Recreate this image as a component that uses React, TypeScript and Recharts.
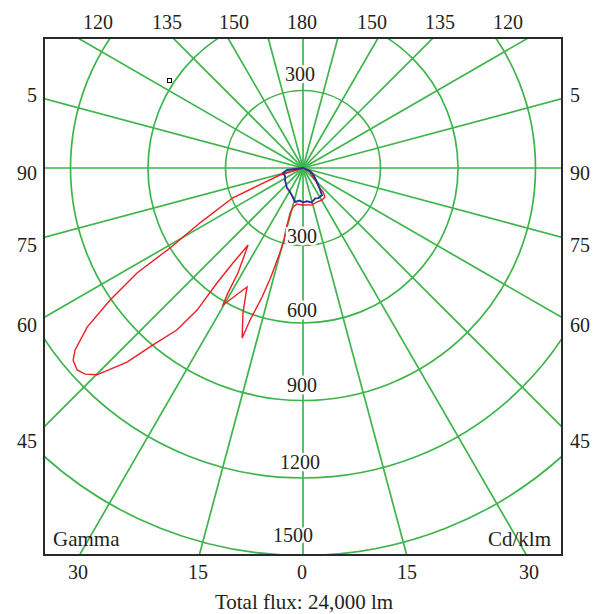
import React from 'react';
import { RadarChart, Radar, PolarGrid, PolarAngleAxis, PolarRadiusAxis } from 'recharts';

// angle: degrees from nadir (gamma 0), turning through the left half first
const redAngle = [75, 73, 67, 62, 59, 57.7, 55.6, 53.6, 51.4, 50.1, 48.2, 46.6, 44.9, 42.2, 40.3, 37.9, 36.7, 36.8, 36.4, 35.5, 31.8, 31, 30.3, 25.2, 22.5, 19.7, 19.2, 17.6, 16.4, 15.5, 14.5, 15.5, 16, 14.4, 9.5, 1.5, 346, 338, 329, 323, 320, 320, 315, 300, 300];
const redCd = [0, 93, 295, 450, 599, 760, 905, 1038, 1129, 1160, 1173, 1161, 1130, 1014, 898, 795, 686, 556, 457, 366, 478, 564, 614, 509, 607, 699, 623, 524, 440, 360, 287, 250, 181, 156, 141, 143, 147, 142, 144, 141, 121, 101, 66, 31, 0];

const blueAngle = [88, 83, 76, 66, 56, 47, 39, 30, 21, 13, 6, 0, 353, 346, 338, 333, 325, 322, 315, 301, 293, 285];
const blueCd = [0, 62, 80, 76, 84, 90, 99, 104, 116, 135, 127, 133, 130, 137, 127, 131, 128, 108, 77, 45, 29, 0];

const gridAngles = [0, 15, 30, 45, 60, 75, 90, 105, 120, 135, 150, 165, 180, 195, 210, 225, 240, 255, 270, 285, 300, 315, 330, 345];
const ringValues = [300, 600, 900, 1200, 1500];

const topLabels = ['120', '135', '150', '180', '150', '135', '120'];
const sideLabels = ['5', '90', '75', '60', '45'];
const bottomLabels = ['30', '15', '0', '15', '30'];
const ringLabels = ['300', '300', '600', '900', '1200', '1500'];

// label placement (px, page coordinates)
const topX = [98, 167, 234, 302, 372, 440, 508];
const sideY = [102, 180, 252, 332, 448];
const bottomX = [78, 198, 302, 407, 529];
const ringPos = [[300, 81], [302, 243], [302, 317], [302, 392], [300, 469], [293, 542]];

const data = [
  ...redAngle.map((a, i) => ({ angle: a, red: redCd[i] })),
  ...blueAngle.map((a, i) => ({ angle: a, blue: blueCd[i] })),
];

const font = '"Liberation Serif", "DejaVu Serif", serif';
const ink = '#231f20';

export default function App() {
  return (
    <div style={{ position: 'absolute', left: 0, top: 0, width: 600, height: 614, background: '#fff' }}>
      <div style={{ position: 'absolute', left: 44, top: 38, width: 518, height: 517, overflow: 'hidden' }}>
        <RadarChart
          width={518}
          height={517}
          data={data}
          cx={259}
          cy={130}
          outerRadius={465}
          startAngle={270}
          endAngle={-90}
          margin={{ top: 0, right: 0, bottom: 0, left: 0 }}
        >
          <PolarGrid gridType="circle" stroke="#3db54a" strokeWidth={1.7} />
          <PolarAngleAxis dataKey="angle" type="number" domain={[0, 360]} ticks={gridAngles} tick={false} axisLine={false} />
          <PolarRadiusAxis type="number" domain={[0, 1800]} ticks={ringValues} tick={false} axisLine={false} />
          <Radar dataKey="red" stroke="#ee1d23" strokeWidth={1.4} fill="none" fillOpacity={0} dot={false} connectNulls isAnimationActive={false} />
          <Radar dataKey="blue" stroke="#2e3192" strokeWidth={1.9} fill="none" fillOpacity={0} dot={false} connectNulls isAnimationActive={false} />
        </RadarChart>
      </div>
      <div style={{ position: 'absolute', left: 43, top: 37, width: 520, height: 519, boxSizing: 'border-box', border: '2px solid #2a2a2a' }} />
      <svg width={600} height={614} style={{ position: 'absolute', left: 0, top: 0 }} fontFamily={font} fontSize={20} fill={ink}>
        {topLabels.map((t, i) => (
          <text key={'t' + i} x={topX[i]} y={29} textAnchor="middle">{t}</text>
        ))}
        {sideLabels.map((t, i) => (
          <text key={'l' + i} x={37} y={sideY[i]} textAnchor="end">{t}</text>
        ))}
        {sideLabels.map((t, i) => (
          <text key={'r' + i} x={570} y={sideY[i]} textAnchor="start">{t}</text>
        ))}
        {bottomLabels.map((t, i) => (
          <text key={'b' + i} x={bottomX[i]} y={579} textAnchor="middle">{t}</text>
        ))}
        {ringLabels.map((t, i) => (
          <text key={'c' + i} x={ringPos[i][0]} y={ringPos[i][1]} textAnchor="middle" stroke="#fff" strokeWidth={5} paintOrder="stroke">{t}</text>
        ))}
        <text x={53} y={546} fontSize={21}>Gamma</text>
        <text x={551} y={546} fontSize={21} textAnchor="end">Cd/klm</text>
        <text x={304} y={609} fontSize={21} textAnchor="middle">Total flux: 24,000 lm</text>
        <rect x={167.5} y={78.5} width={4} height={4} fill="#fff" stroke="#000" strokeWidth={1} />
      </svg>
    </div>
  );
}
